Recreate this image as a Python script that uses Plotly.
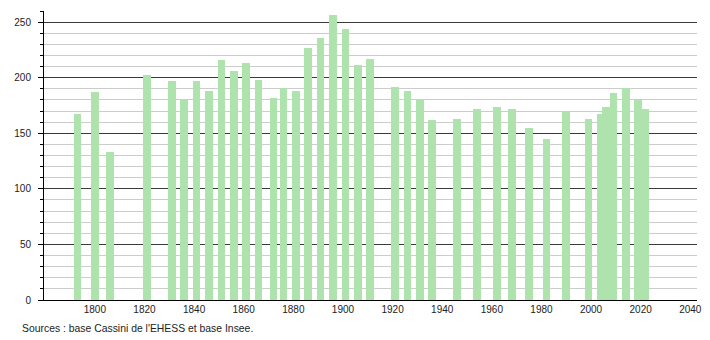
import plotly.graph_objects as go

years = [1793, 1800, 1806, 1821, 1831, 1836, 1841, 1846, 1851, 1856, 1861, 1866,
         1872, 1876, 1881, 1886, 1891, 1896, 1901, 1906, 1911, 1921, 1926, 1931,
         1936, 1946, 1954, 1962, 1968, 1975, 1982, 1990, 1999, 2004, 2006, 2009,
         2014, 2019, 2022]
population = [167, 187, 133, 202, 197, 180, 197, 188, 216, 206, 213, 198,
              182, 191, 188, 227, 236, 256, 244, 211, 217, 192, 188, 181,
              162, 163, 172, 174, 172, 155, 145, 169, 163, 167, 174, 186,
              191, 180, 172]
x_ticks = [1800, 1820, 1840, 1860, 1880, 1900, 1920, 1940, 1960, 1980, 2000, 2020, 2040]
y_ticks = [0, 50, 100, 150, 200, 250]
source_text = "Sources : base Cassini de l'EHESS et base Insee."

FONT = "Liberation Sans, Arial, sans-serif"

fig = go.Figure()
fig.add_trace(go.Bar(
    x=years, y=population, width=3.1,
    marker=dict(color="#aee3ae", line=dict(width=0)),
    hoverinfo="x+y",
))

fig.update_layout(
    width=710, height=340,
    margin=dict(l=44, r=8, t=11, b=40),
    paper_bgcolor="white", plot_bgcolor="white",
    showlegend=False,
    bargap=0,
    font=dict(family=FONT, size=10, color="#222"),
    xaxis=dict(
        range=[1779.5, 2042.7],
        tickvals=x_ticks, ticktext=[str(v) for v in x_ticks],
        showgrid=False, zeroline=False,
        showline=True, linecolor="black", linewidth=1,
        ticks="", ticklen=0,
        tickfont=dict(family=FONT, size=10, color="#222"),
    ),
    yaxis=dict(
        range=[0, 260],
        tickvals=y_ticks,
        showgrid=True, gridcolor="#3a3a3a", gridwidth=1,
        zeroline=False,
        showline=True, linecolor="black", linewidth=1,
        ticks="outside", ticklen=5, tickcolor="black", tickwidth=1,
        ticklabelstandoff=5,
        tickfont=dict(family=FONT, size=10, color="#222"),
        minor=dict(dtick=10, tick0=0, showgrid=True, gridcolor="#cccccc", gridwidth=1,
                   ticks="outside", ticklen=3, tickcolor="black"),
    ),
    annotations=[dict(
        text=source_text, xref="paper", yref="paper",
        x=(20 - 44) / 658, y=-28 / 289, xanchor="left", yanchor="middle",
        showarrow=False, font=dict(family=FONT, size=10.4, color="#222"),
    )],
)

fig.write_html("out.html")
